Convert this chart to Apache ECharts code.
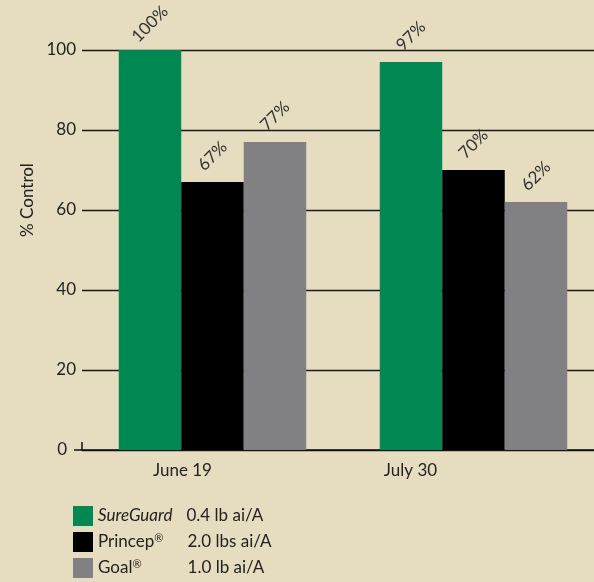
<!DOCTYPE html>
<html><head><meta charset="utf-8">
<script src="https://cdn.jsdelivr.net/npm/echarts@6/dist/echarts.min.js"></script>
<style>html,body{margin:0;padding:0;background:#e6dcbf;overflow:hidden;width:594px;height:582px;}#c{width:604px;height:582px;}</style>
</head><body><div id="c"></div>
<script>
var categories = ['June 19', 'July 30'];
var seriesNames = ['SureGuard', 'Princep®', 'Goal®'];
var doses = ['0.4 lb ai/A', '2.0 lbs ai/A', '1.0 lb ai/A'];
var sureGuard = [100, 97];
var princep = [67, 70];
var goal = [77, 62];
var yTicks = [0, 20, 40, 60, 80, 100];
var colors = ['#008752', '#000000', '#818184'];

var FONT = 'Lato';
var chart = echarts.init(document.getElementById('c'));
var valueSets = [sureGuard, princep, goal];
var series = seriesNames.map(function (n, i) {
  return {
    name: n, type: 'bar', data: valueSets[i], barWidth: 62.5, barGap: '0%', z: 10,
    itemStyle: { color: colors[i] },
    label: {
      show: true, position: 'top', distance: 26, rotate: 45,
      align: 'center', verticalAlign: 'middle',
      formatter: '{c}%', fontFamily: FONT, fontSize: 17, color: '#333'
    }
  };
});
var yBase = {
  type: 'value', min: yTicks[0], max: yTicks[yTicks.length - 1], interval: 20, position: 'left', z: 0
};
var txt = { fontFamily: FONT, fontSize: 17, color: '#222', lineHeight: 20 };
chart.setOption({
  backgroundColor: '#e6dcbf',
  animation: false,
  grid: { left: 82, top: 50, height: 400, right: 0, containLabel: false },
  legend: {
    orient: 'vertical', left: 73, top: 506, height: 76, padding: 0,
    itemWidth: 20, itemHeight: 20, itemGap: 6,
    icon: 'rect', selectedMode: false,
    data: seriesNames,
    formatter: function (name) {
      var i = seriesNames.indexOf(name);
      var base = name.replace('®', '');
      var nameTxt = i === 0 ? '{it|' + base + '}' : '{n|' + base + '}' + '{sup|®}';
      return nameTxt + '{gap' + i + '|}' + '{d|' + doses[i] + '}';
    },
    textStyle: Object.assign({}, txt, {
      rich: {
        it: Object.assign({ fontStyle: 'italic' }, txt),
        n: txt,
        sup: { fontFamily: FONT, fontSize: 11, color: '#222', lineHeight: 20, padding: [0, 0, 7, 0] },
        gap0: { width: 14 },
        gap1: { width: 24 },
        gap2: { width: 46 },
        d: txt
      }
    })
  },
  xAxis: {
    type: 'category', data: categories, z: 0,
    axisLine: { show: true, lineStyle: { color: '#111', width: 1.5 } },
    axisTick: { show: true, inside: true, length: 8, lineStyle: { color: '#111', width: 1.5 },
      interval: function (idx) { return idx === 1; } },
    axisLabel: {
      margin: 12, fontFamily: FONT, fontSize: 17, color: '#222',
      formatter: function (v, i) { return '{l' + i + '|' + v + '}'; },
      rich: {
        l0: { fontFamily: FONT, fontSize: 17, color: '#222', padding: [0, 60, 0, 0] },
        l1: { fontFamily: FONT, fontSize: 17, color: '#222', padding: [0, 126, 0, 0] }
      }
    }
  },
  yAxis: [
    Object.assign({}, yBase, {
      name: '% Control', nameLocation: 'middle', nameRotate: 90, nameGap: 46,
      nameTextStyle: { fontFamily: FONT, fontSize: 17, color: '#222', padding: [0, 0, 0, 100] },
      axisLine: { show: false },
      axisTick: { show: false },
      splitLine: { show: true, lineStyle: { color: '#1a1a1a', width: 1.3 } },
      axisLabel: {
        margin: 6, fontFamily: FONT, fontSize: 17, color: '#222',
        formatter: function (v) { return v === 0 ? '{z|0}' : '' + v; },
        rich: { z: { fontFamily: FONT, fontSize: 17, color: '#222', padding: [0, 9, 0, 0] } }
      }
    }),
    Object.assign({}, yBase, {
      axisLine: { show: false },
      axisTick: { show: true, length: 8, customValues: [0], lineStyle: { color: '#111', width: 1.5 } },
      splitLine: { show: false },
      axisLabel: { show: false }
    })
  ],
  series: series
});
</script></body></html>
